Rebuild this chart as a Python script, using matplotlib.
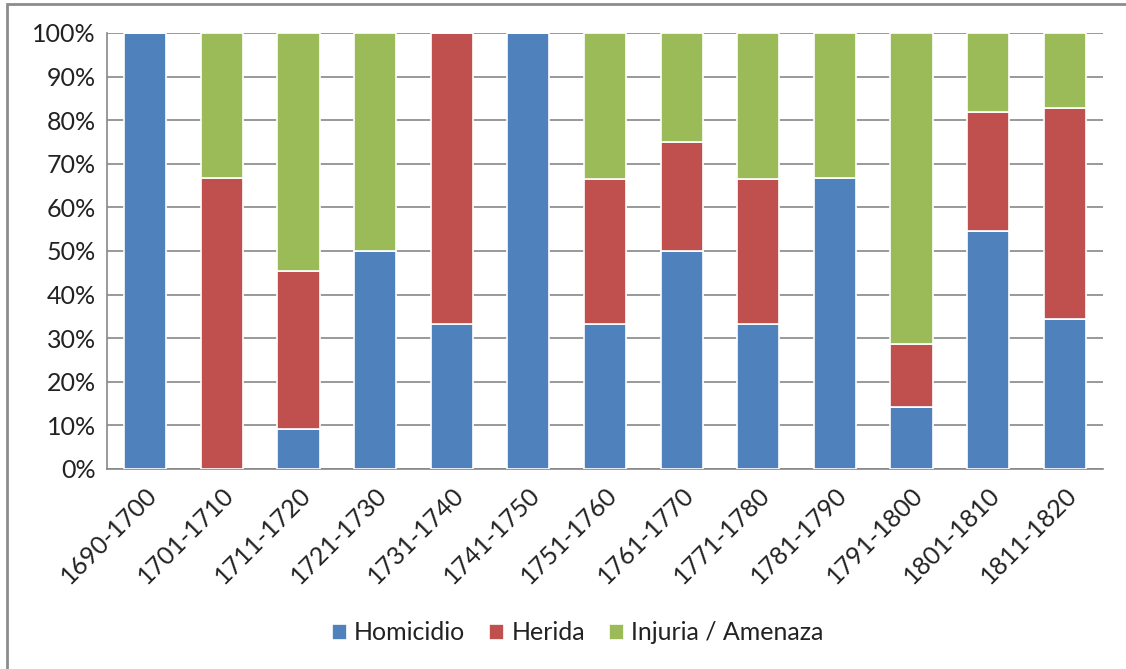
import matplotlib.pyplot as plt
from matplotlib.patches import Rectangle
import numpy as np

periods = ['1690-1700', '1701-1710', '1711-1720', '1721-1730', '1731-1740',
           '1741-1750', '1751-1760', '1761-1770', '1771-1780', '1781-1790',
           '1791-1800', '1801-1810', '1811-1820']
homicidio = [100, 0, 9.1, 50, 33.3, 100, 33.3, 50, 33.3, 66.7, 14.3, 54.5, 34.5]
herida = [0, 66.7, 36.4, 0, 66.7, 0, 33.3, 25, 33.3, 0, 14.3, 27.3, 48.3]
injuria = [0, 33.3, 54.5, 50, 0, 0, 33.4, 25, 33.4, 33.3, 71.4, 18.2, 17.2]

series = [('Homicidio', homicidio, '#4f81bd'),
          ('Herida', herida, '#c0504d'),
          ('Injuria / Amenaza', injuria, '#9bbb59')]

plt.rcParams['font.family'] = ['Lato', 'DejaVu Sans']

fig = plt.figure(figsize=(11.26, 6.69), dpi=100)
ax = fig.add_axes([107 / 1126, 1 - 469 / 669, (1103 - 107) / 1126, (469 - 33) / 669])

x = np.arange(len(periods))
bottom = np.zeros(len(periods))
for name, vals, col in series:
    vals = np.array(vals)
    ax.bar(x, vals, 0.55, bottom=bottom, color=col, edgecolor='white',
           linewidth=1.2, label=name, zorder=3)
    bottom += vals

ax.set_xlim(-0.5, len(periods) - 0.5)
ax.set_ylim(0, 100)
ax.set_yticks(range(0, 101, 10))
ax.set_yticklabels([f'{v}%' for v in range(0, 101, 10)], fontsize=18, color='#222222')
ax.set_xticks(x)
ax.set_xticklabels(periods, rotation=45, ha='right', rotation_mode='anchor',
                   fontsize=18, color='#222222')
ax.tick_params(axis='x', length=0, pad=10)
ax.tick_params(axis='y', length=0, pad=8)
ax.yaxis.grid(True, color='#878787', linewidth=1.2, zorder=0)
for s in ['top', 'right']:
    ax.spines[s].set_visible(False)
for s in ['left', 'bottom']:
    ax.spines[s].set_color('#878787')
    ax.spines[s].set_linewidth(1.2)

fig.legend(loc='center', bbox_to_anchor=(0.513, 1 - 633 / 669), ncol=3,
           frameon=False, fontsize=18, handlelength=0.6, handleheight=0.6,
           handletextpad=0.3, columnspacing=0.95, labelcolor='#222222')

fig.patches.append(Rectangle((7 / 1126, -0.01), 1.1, 1 - 4 / 669 + 0.01,
                             transform=fig.transFigure, fill=False,
                             edgecolor='#8c8c8c', linewidth=2))

fig.savefig('out.png', dpi=100)
